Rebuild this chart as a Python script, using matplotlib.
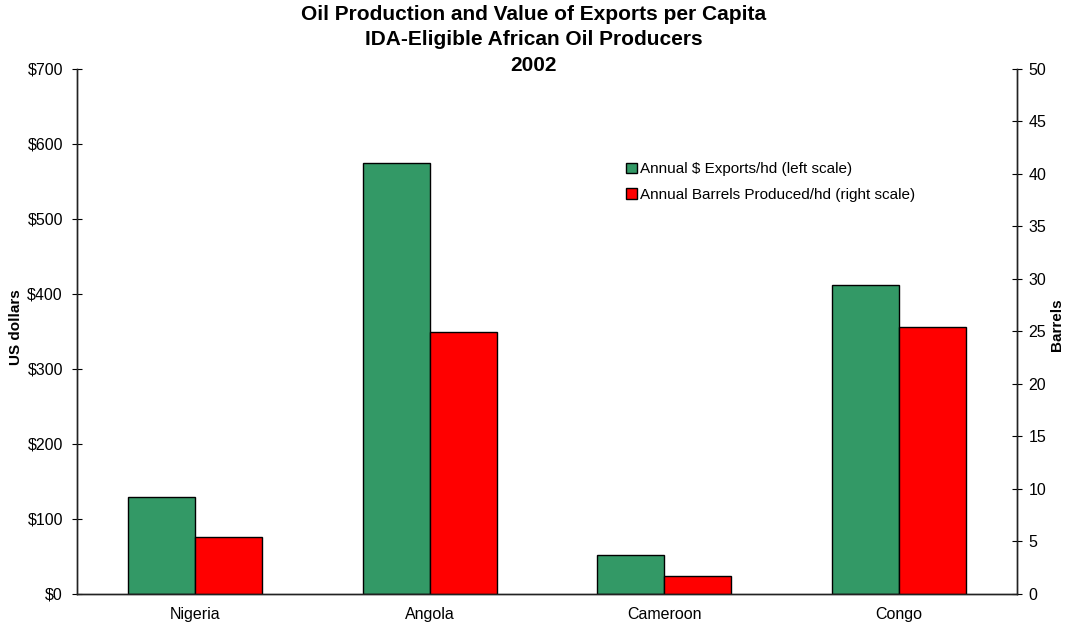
import matplotlib
matplotlib.use("Agg")
import matplotlib.pyplot as plt
import numpy as np
from matplotlib.ticker import FuncFormatter

plt.rcParams['font.family'] = ['Liberation Sans', 'DejaVu Sans']

# per capita figures, 2002
countries = ['Nigeria', 'Angola', 'Cameroon', 'Congo']
exports_usd = [129, 575, 51, 412]      # annual $ exports per head
barrels = [5.4, 24.9, 1.7, 25.4]       # annual barrels produced per head

green = '#339966'
red = '#ff0000'

fig = plt.figure(figsize=(10.67, 6.26), dpi=100)
ax = fig.add_axes([0.0726, 0.0519, 0.8801, 0.8379])
ax2 = ax.twinx()

x = np.arange(len(countries))
w = 0.285
b1 = ax.bar(x - w / 2, exports_usd, w, color=green, edgecolor='black', linewidth=1,
            label='Annual $ Exports/hd (left scale)')
b2 = ax2.bar(x + w / 2, barrels, w, color=red, edgecolor='black', linewidth=1,
             label='Annual Barrels Produced/hd (right scale)')

ax.set_xlim(-0.5, 3.5)
ax.set_ylim(0, 700)
ax.set_yticks(range(0, 701, 100))
ax.yaxis.set_major_formatter(FuncFormatter(lambda v, p: '${:d}'.format(int(v))))
ax2.set_ylim(0, 50)
ax2.set_yticks(range(0, 51, 5))

ax.set_xticks(x)
ax.set_xticklabels(countries)
ax.tick_params(axis='x', length=0, labelsize=11.5, pad=10)
ax.tick_params(axis='y', direction='inout', length=7, labelsize=11.5, pad=7)
ax2.tick_params(axis='y', direction='inout', length=7, labelsize=11.5, pad=5)

for a in (ax, ax2):
    a.spines['top'].set_visible(False)
    for s in ('left', 'right', 'bottom'):
        a.spines[s].set_linewidth(1)
        a.spines[s].set_color('#222222')

# axis titles placed on the figure so they sit near the edges
fig.text(0.015, 0.478, 'US dollars', rotation=90, ha='center', va='center',
         fontsize=11, fontweight='bold')
fig.text(0.991, 0.482, 'Barrels', rotation=90, ha='center', va='center',
         fontsize=11, fontweight='bold')

fig.text(0.5, 0.992, 'Oil Production and Value of Exports per Capita\n'
         'IDA-Eligible African Oil Producers\n2002',
         ha='center', va='top', fontsize=15, fontweight='bold', linespacing=1.42)

ax.legend([b1, b2], [b1.get_label(), b2.get_label()],
          loc='upper left', bbox_to_anchor=(0.584, 0.822), frameon=False,
          fontsize=11, handlelength=0.7, handleheight=0.7, handletextpad=0.2,
          labelspacing=0.75, borderaxespad=0, borderpad=0)

fig.savefig('out.png', dpi=100)
